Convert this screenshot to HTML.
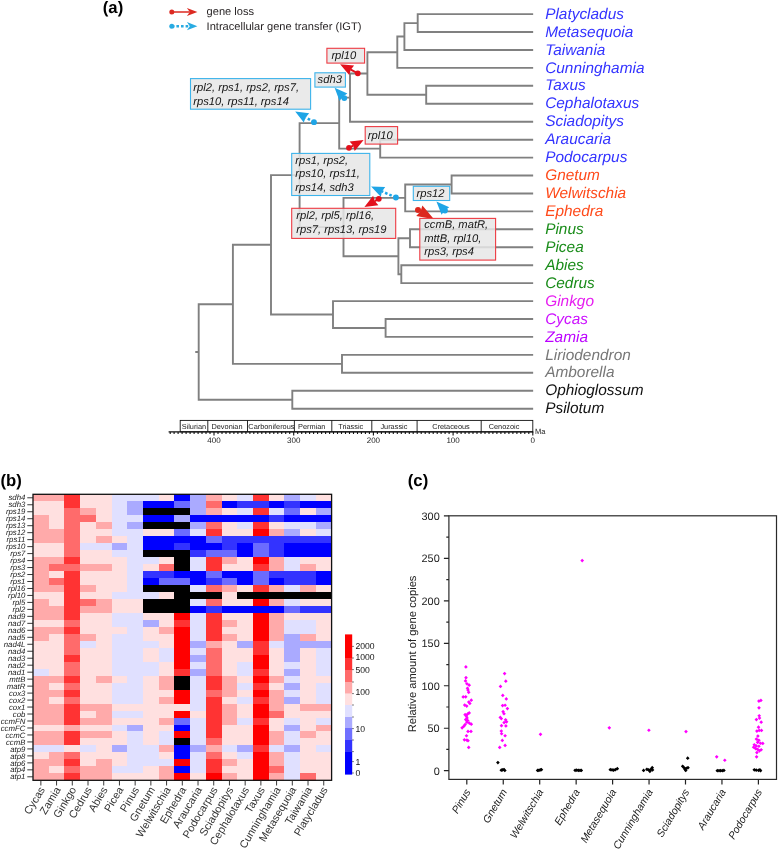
<!DOCTYPE html>
<html lang="en"><head><meta charset="utf-8"><title>Figure</title>
<style>
html,body{margin:0;padding:0;background:#fff;}
body{width:778px;height:849px;overflow:hidden;}
svg{display:block;font-family:"Liberation Sans", sans-serif;will-change:transform;text-rendering:geometricPrecision;}
.tx{font-style:italic;font-size:15.4px;}
.gl{font-style:italic;font-size:11.2px;fill:#141414;}
.rl{font-style:italic;font-size:7.8px;fill:#1a1a1a;text-anchor:end;}
.cl{font-size:10.8px;fill:#333;text-anchor:end;}
.sl{font-style:italic;font-size:10.5px;fill:#222;text-anchor:end;}
.pl{font-weight:bold;font-size:16.7px;fill:#000;}
.tr{fill:none;stroke:#808080;stroke-width:1.9;stroke-linecap:square;}
</style></head><body>
<svg width="778" height="849" viewBox="0 0 778 849">

<g id="panelA">
<text class="pl" x="102.8" y="12.7">(a)</text>
<circle cx="171.8" cy="12.0" r="2.5" fill="#dc2a22"/><line x1="171.8" y1="12.0" x2="189.8" y2="12.0" stroke="#dc2a22" stroke-width="1.5"/><path d="M197.4 12.0L186.9 16.1L189.8 12.0L186.9 7.9Z" fill="#dc2a22"/>
<circle cx="171.8" cy="26.2" r="2.5" fill="#29abe2"/><line x1="171.8" y1="26.2" x2="189.8" y2="26.2" stroke="#29abe2" stroke-width="2.5" stroke-dasharray="2.6 2.0"/><path d="M197.4 26.2L186.9 30.3L189.8 26.2L186.9 22.1Z" fill="#29abe2"/>
<text x="206.6" y="15.4" font-size="11.1px" fill="#231f20">gene loss</text>
<text x="206.6" y="29.8" font-size="11.1px" fill="#231f20">Intracellular gene transfer (IGT)</text>
<path class="tr" d="M417.7 14.1L532.2 14.1M417.7 32.0L532.2 32.0M417.7 14.1L417.7 32.0M404.4 23.1L417.7 23.1M404.4 50.0L532.2 50.0M404.4 23.1L404.4 50.0M397.3 36.5L404.4 36.5M397.3 67.9L532.2 67.9M397.3 36.5L397.3 67.9M426.2 85.8L532.2 85.8M426.2 103.8L532.2 103.8M426.2 85.8L426.2 103.8M367.4 52.2L397.3 52.2M367.4 94.8L426.2 94.8M367.4 52.2L367.4 94.8M350.0 73.5L367.4 73.5M350.0 121.7L532.2 121.7M350.0 73.5L350.0 121.7M380.2 139.7L532.2 139.7M380.2 157.6L532.2 157.6M380.2 139.7L380.2 157.6M339.2 97.6L350.0 97.6M339.2 148.6L380.2 148.6M339.2 97.6L339.2 148.6M451.6 175.5L532.2 175.5M451.6 193.5L532.2 193.5M451.6 175.5L451.6 193.5M405.2 184.5L451.6 184.5M405.2 211.4L532.2 211.4M405.2 184.5L405.2 211.4M410.0 229.3L532.2 229.3M410.0 247.3L532.2 247.3M410.0 229.3L410.0 247.3M401.3 265.2L532.2 265.2M401.3 283.1L532.2 283.1M401.3 265.2L401.3 283.1M398.4 238.3L410.0 238.3M398.4 274.2L401.3 274.2M398.4 238.3L398.4 274.2M343.5 197.9L405.2 197.9M343.5 256.2L398.4 256.2M343.5 197.9L343.5 256.2M299.6 123.1L339.2 123.1M299.6 227.1L343.5 227.1M299.6 123.1L299.6 227.1M385.6 319.0L532.2 319.0M385.6 336.9L532.2 336.9M385.6 319.0L385.6 336.9M333.0 301.1L532.2 301.1M333.0 328.0L385.6 328.0M333.0 301.1L333.0 328.0M271.0 175.1L299.6 175.1M271.0 314.5L333.0 314.5M271.0 175.1L271.0 314.5M342.0 354.9L532.2 354.9M342.0 372.8L532.2 372.8M342.0 354.9L342.0 372.8M232.9 244.8L271.0 244.8M232.9 363.9L342.0 363.9M232.9 244.8L232.9 363.9M292.3 390.8L532.2 390.8M292.3 408.7L532.2 408.7M292.3 390.8L292.3 408.7M198.7 304.3L232.9 304.3M198.7 399.7L292.3 399.7M198.7 304.3L198.7 399.7M196.2 352.0L198.7 352.0"/>
<text class="tx" x="545.2" y="18.7" fill="#3333ff">Platycladus</text>
<text class="tx" x="545.2" y="36.6" fill="#3333ff">Metasequoia</text>
<text class="tx" x="545.2" y="54.6" fill="#3333ff">Taiwania</text>
<text class="tx" x="545.2" y="72.5" fill="#3333ff">Cunninghamia</text>
<text class="tx" x="545.2" y="90.4" fill="#3333ff">Taxus</text>
<text class="tx" x="545.2" y="108.4" fill="#3333ff">Cephalotaxus</text>
<text class="tx" x="545.2" y="126.3" fill="#3333ff">Sciadopitys</text>
<text class="tx" x="545.2" y="144.3" fill="#3333ff">Araucaria</text>
<text class="tx" x="545.2" y="162.2" fill="#3333ff">Podocarpus</text>
<text class="tx" x="545.2" y="180.1" fill="#ff4a1a">Gnetum</text>
<text class="tx" x="545.2" y="198.1" fill="#ff4a1a">Welwitschia</text>
<text class="tx" x="545.2" y="216.0" fill="#ff4a1a">Ephedra</text>
<text class="tx" x="545.2" y="233.9" fill="#1a8c1a">Pinus</text>
<text class="tx" x="545.2" y="251.9" fill="#1a8c1a">Picea</text>
<text class="tx" x="545.2" y="269.8" fill="#1a8c1a">Abies</text>
<text class="tx" x="545.2" y="287.7" fill="#1a8c1a">Cedrus</text>
<text class="tx" x="545.2" y="305.7" fill="#e61ef0">Ginkgo</text>
<text class="tx" x="545.2" y="323.6" fill="#cc10ff">Cycas</text>
<text class="tx" x="545.2" y="341.5" fill="#bb00ff">Zamia</text>
<text class="tx" x="545.2" y="359.5" fill="#777777">Liriodendron</text>
<text class="tx" x="545.2" y="377.4" fill="#777777">Amborella</text>
<text class="tx" x="545.2" y="395.4" fill="#111111">Ophioglossum</text>
<text class="tx" x="545.2" y="413.3" fill="#111111">Psilotum</text>
<circle cx="357.8" cy="73.3" r="2.9" fill="#e3101c"/><line x1="357.8" y1="73.3" x2="350.8" y2="69.7" stroke="#e3101c" stroke-width="2.0"/><path d="M340.1 64.3L354.1 65.4L350.8 69.7L349.2 75.0Z" fill="#e3101c"/>
<circle cx="344.3" cy="98.1" r="2.9" fill="#1fa5e6"/><line x1="344.3" y1="98.1" x2="342.8" y2="96.5" stroke="#1fa5e6" stroke-width="2.5" stroke-dasharray="2.6 2.0"/><path d="M334.6 87.8L347.4 93.6L342.8 96.5L339.6 101.0Z" fill="#1fa5e6"/>
<circle cx="314.0" cy="122.2" r="2.9" fill="#1fa5e6"/><line x1="314.0" y1="122.2" x2="305.6" y2="117.4" stroke="#1fa5e6" stroke-width="2.5" stroke-dasharray="2.6 2.0"/><path d="M295.2 111.4L309.2 113.2L305.6 117.4L303.8 122.6Z" fill="#1fa5e6"/>
<circle cx="349.0" cy="147.8" r="2.9" fill="#e3101c"/><line x1="349.0" y1="147.8" x2="353.1" y2="145.6" stroke="#e3101c" stroke-width="2.0"/><path d="M363.6 140.0L354.7 150.9L353.1 145.6L349.6 141.4Z" fill="#e3101c"/>
<circle cx="395.9" cy="197.5" r="2.9" fill="#1fa5e6"/><line x1="395.9" y1="197.5" x2="382.0" y2="191.4" stroke="#1fa5e6" stroke-width="2.5" stroke-dasharray="2.6 2.0"/><path d="M371.1 186.6L385.2 186.9L382.0 191.4L380.8 196.8Z" fill="#1fa5e6"/>
<circle cx="378.8" cy="198.8" r="2.9" fill="#e3101c"/><line x1="378.8" y1="198.8" x2="374.8" y2="201.0" stroke="#e3101c" stroke-width="2.0"/><path d="M364.4 206.9L373.1 195.8L374.8 201.0L378.4 205.2Z" fill="#e3101c"/>
<circle cx="445.0" cy="210.5" r="2.9" fill="#1fa5e6"/><line x1="445.0" y1="210.5" x2="444.7" y2="210.2" stroke="#1fa5e6" stroke-width="2.5" stroke-dasharray="2.6 2.0"/><path d="M436.4 201.6L449.3 207.2L444.7 210.2L441.6 214.7Z" fill="#1fa5e6"/>
<circle cx="418.0" cy="210.0" r="3.0" fill="#dc281e"/><line x1="418.0" y1="210.0" x2="420.5" y2="211.4" stroke="#dc281e" stroke-width="2.0"/><path d="M434.0 219.3L416.2 216.1L420.5 211.4L422.4 205.4Z" fill="#dc281e"/>
<rect x="326.9" y="48.3" width="37.7" height="14.8" fill="#e6e6e6" fill-opacity="0.85" stroke="#ee3b43" stroke-width="1.1"/><text class="gl" x="331.4" y="58.9">rpl10</text>
<rect x="314.9" y="72.8" width="30.5" height="14.3" fill="#e6e6e6" fill-opacity="0.85" stroke="#3db4ec" stroke-width="1.1"/><text class="gl" x="317.6" y="83.3">sdh3</text>
<rect x="190.5" y="78.6" width="120.1" height="30.6" fill="#e6e6e6" fill-opacity="0.85" stroke="#3db4ec" stroke-width="1.1"/><text class="gl" x="193.3" y="91.0">rpl2, rps1, rps2, rps7,</text><text class="gl" x="193.3" y="104.5">rps10, rps11, rps14</text>
<rect x="365.2" y="126.6" width="32.4" height="17.5" fill="#e6e6e6" fill-opacity="0.85" stroke="#ee3b43" stroke-width="1.1"/><text class="gl" x="367.8" y="138.8">rpl10</text>
<rect x="291.7" y="153.4" width="78.1" height="42.1" fill="#e6e6e6" fill-opacity="0.85" stroke="#3db4ec" stroke-width="1.1"/><text class="gl" x="295.3" y="164.0">rps1, rps2,</text><text class="gl" x="295.3" y="177.3">rps10, rps11,</text><text class="gl" x="295.3" y="190.7">rps14, sdh3</text>
<rect x="291.7" y="208.3" width="104.0" height="30.1" fill="#e6e6e6" fill-opacity="0.85" stroke="#ee3b43" stroke-width="1.1"/><text class="gl" x="296.3" y="219.4">rpl2, rpl5, rpl16,</text><text class="gl" x="296.3" y="232.6">rps7, rps13, rps19</text>
<rect x="413.3" y="186.3" width="36.4" height="14.2" fill="#e6e6e6" fill-opacity="0.85" stroke="#3db4ec" stroke-width="1.1"/><text class="gl" x="416.5" y="196.5">rps12</text>
<rect x="419.8" y="218.4" width="75.8" height="41.7" fill="#e6e6e6" fill-opacity="0.85" stroke="#ee3b43" stroke-width="1.1"/><text class="gl" x="424.2" y="228.3">ccmB, matR,</text><text class="gl" x="424.2" y="241.7">mttB, rpl10,</text><text class="gl" x="424.2" y="255.1">rps3, rps4</text>
<rect x="180.2" y="420.4" width="352.6" height="11.4" fill="#fff" stroke="#111" stroke-width="0.9"/>
<line x1="207.8" y1="420.4" x2="207.8" y2="431.8" stroke="#111" stroke-width="0.9"/>
<line x1="247.5" y1="420.4" x2="247.5" y2="431.8" stroke="#111" stroke-width="0.9"/>
<line x1="294.4" y1="420.4" x2="294.4" y2="431.8" stroke="#111" stroke-width="0.9"/>
<line x1="331.8" y1="420.4" x2="331.8" y2="431.8" stroke="#111" stroke-width="0.9"/>
<line x1="371.8" y1="420.4" x2="371.8" y2="431.8" stroke="#111" stroke-width="0.9"/>
<line x1="417.1" y1="420.4" x2="417.1" y2="431.8" stroke="#111" stroke-width="0.9"/>
<line x1="481.2" y1="420.4" x2="481.2" y2="431.8" stroke="#111" stroke-width="0.9"/>
<text x="193.9" y="428.9" font-size="7.35px" fill="#222" text-anchor="middle">Silurian</text>
<text x="227.0" y="428.9" font-size="7.35px" fill="#222" text-anchor="middle">Devonian</text>
<text x="271.4" y="428.9" font-size="7.35px" fill="#222" text-anchor="middle">Carboniferous</text>
<text x="311.7" y="428.9" font-size="7.35px" fill="#222" text-anchor="middle">Permian</text>
<text x="350.7" y="428.9" font-size="7.35px" fill="#222" text-anchor="middle">Triassic</text>
<text x="393.9" y="428.9" font-size="7.35px" fill="#222" text-anchor="middle">Jurassic</text>
<text x="451.0" y="428.9" font-size="7.35px" fill="#222" text-anchor="middle">Cretaceous</text>
<text x="504.0" y="428.9" font-size="7.35px" fill="#222" text-anchor="middle">Cenozoic</text>
<line x1="168.6" y1="431.9" x2="533.3" y2="431.9" stroke="#111" stroke-width="1.3"/>
<path d="M532.8 431.9v3.7M528.8 431.9v2.0M524.8 431.9v2.0M520.8 431.9v2.0M516.9 431.9v2.0M512.9 431.9v2.0M508.9 431.9v2.0M504.9 431.9v2.0M500.9 431.9v2.0M496.9 431.9v2.0M492.9 431.9v2.0M489.0 431.9v2.0M485.0 431.9v2.0M481.0 431.9v2.0M477.0 431.9v2.0M473.0 431.9v2.0M469.0 431.9v2.0M465.1 431.9v2.0M461.1 431.9v2.0M457.1 431.9v2.0M453.1 431.9v3.7M449.1 431.9v2.0M445.1 431.9v2.0M441.1 431.9v2.0M437.2 431.9v2.0M433.2 431.9v2.0M429.2 431.9v2.0M425.2 431.9v2.0M421.2 431.9v2.0M417.2 431.9v2.0M413.2 431.9v2.0M409.3 431.9v2.0M405.3 431.9v2.0M401.3 431.9v2.0M397.3 431.9v2.0M393.3 431.9v2.0M389.3 431.9v2.0M385.4 431.9v2.0M381.4 431.9v2.0M377.4 431.9v2.0M373.4 431.9v3.7M369.4 431.9v2.0M365.4 431.9v2.0M361.4 431.9v2.0M357.5 431.9v2.0M353.5 431.9v2.0M349.5 431.9v2.0M345.5 431.9v2.0M341.5 431.9v2.0M337.5 431.9v2.0M333.5 431.9v2.0M329.6 431.9v2.0M325.6 431.9v2.0M321.6 431.9v2.0M317.6 431.9v2.0M313.6 431.9v2.0M309.6 431.9v2.0M305.7 431.9v2.0M301.7 431.9v2.0M297.7 431.9v2.0M293.7 431.9v3.7M289.7 431.9v2.0M285.7 431.9v2.0M281.7 431.9v2.0M277.8 431.9v2.0M273.8 431.9v2.0M269.8 431.9v2.0M265.8 431.9v2.0M261.8 431.9v2.0M257.8 431.9v2.0M253.8 431.9v2.0M249.9 431.9v2.0M245.9 431.9v2.0M241.9 431.9v2.0M237.9 431.9v2.0M233.9 431.9v2.0M229.9 431.9v2.0M226.0 431.9v2.0M222.0 431.9v2.0M218.0 431.9v2.0M214.0 431.9v3.7M210.0 431.9v2.0M206.0 431.9v2.0M202.0 431.9v2.0M198.1 431.9v2.0M194.1 431.9v2.0M190.1 431.9v2.0M186.1 431.9v2.0M182.1 431.9v2.0M178.1 431.9v2.0M174.1 431.9v2.0M170.2 431.9v2.0" stroke="#111" stroke-width="1.1" fill="none"/>
<text x="532.8" y="443.3" font-size="8px" fill="#222" text-anchor="middle">0</text>
<text x="453.1" y="443.3" font-size="8px" fill="#222" text-anchor="middle">100</text>
<text x="373.4" y="443.3" font-size="8px" fill="#222" text-anchor="middle">200</text>
<text x="293.7" y="443.3" font-size="8px" fill="#222" text-anchor="middle">300</text>
<text x="214.0" y="443.3" font-size="8px" fill="#222" text-anchor="middle">400</text>
<text x="535" y="433.6" font-size="7.5px" fill="#222">Ma</text>
</g>
<g id="panelB">
<g shape-rendering="crispEdges">
<text class="pl" x="0.4" y="485.8">(b)</text>
<rect x="33.00" y="494.30" width="31.93" height="7.58" fill="#ffaaaa"/>
<rect x="64.43" y="494.30" width="16.22" height="7.58" fill="#ff3333"/>
<rect x="80.15" y="494.30" width="31.93" height="7.58" fill="#ffe0e0"/>
<rect x="111.58" y="494.30" width="47.65" height="7.58" fill="#e0e0ff"/>
<rect x="158.73" y="494.30" width="16.22" height="7.58" fill="#ffe0e0"/>
<rect x="174.44" y="494.30" width="16.22" height="7.58" fill="#0000ff"/>
<rect x="190.16" y="494.30" width="16.22" height="7.58" fill="#aaaaff"/>
<rect x="205.87" y="494.30" width="16.22" height="7.58" fill="#ffaaaa"/>
<rect x="221.59" y="494.30" width="16.22" height="7.58" fill="#ffe0e0"/>
<rect x="237.31" y="494.30" width="16.22" height="7.58" fill="#e0e0ff"/>
<rect x="253.02" y="494.30" width="16.22" height="7.58" fill="#ff3333"/>
<rect x="268.74" y="494.30" width="16.22" height="7.58" fill="#ffe0e0"/>
<rect x="284.45" y="494.30" width="16.22" height="7.58" fill="#aaaaff"/>
<rect x="300.17" y="494.30" width="16.22" height="7.58" fill="#e0e0ff"/>
<rect x="315.88" y="494.30" width="16.22" height="7.58" fill="#ffe0e0"/>
<rect x="33.00" y="501.28" width="31.93" height="7.58" fill="#ffe0e0"/>
<rect x="64.43" y="501.28" width="16.22" height="7.58" fill="#ff3333"/>
<rect x="80.15" y="501.28" width="31.93" height="7.58" fill="#ffe0e0"/>
<rect x="111.58" y="501.28" width="16.22" height="7.58" fill="#e0e0ff"/>
<rect x="127.29" y="501.28" width="16.22" height="7.58" fill="#aaaaff"/>
<rect x="143.01" y="501.28" width="31.93" height="7.58" fill="#0000ff"/>
<rect x="174.44" y="501.28" width="16.22" height="7.58" fill="#6b6bff"/>
<rect x="190.16" y="501.28" width="16.22" height="7.58" fill="#aaaaff"/>
<rect x="205.87" y="501.28" width="16.22" height="7.58" fill="#ff6b6b"/>
<rect x="221.59" y="501.28" width="16.22" height="7.58" fill="#0000ff"/>
<rect x="237.31" y="501.28" width="31.93" height="7.58" fill="#3333ff"/>
<rect x="268.74" y="501.28" width="16.22" height="7.58" fill="#0000ff"/>
<rect x="284.45" y="501.28" width="16.22" height="7.58" fill="#3333ff"/>
<rect x="300.17" y="501.28" width="31.93" height="7.58" fill="#0000ff"/>
<rect x="33.00" y="508.25" width="31.93" height="7.58" fill="#ffe0e0"/>
<rect x="64.43" y="508.25" width="16.22" height="7.58" fill="#ff6b6b"/>
<rect x="80.15" y="508.25" width="16.22" height="7.58" fill="#ffaaaa"/>
<rect x="95.86" y="508.25" width="16.22" height="7.58" fill="#ffe0e0"/>
<rect x="111.58" y="508.25" width="16.22" height="7.58" fill="#e0e0ff"/>
<rect x="127.29" y="508.25" width="16.22" height="7.58" fill="#aaaaff"/>
<rect x="143.01" y="508.25" width="47.65" height="7.58" fill="#000000"/>
<rect x="190.16" y="508.25" width="16.22" height="7.58" fill="#aaaaff"/>
<rect x="205.87" y="508.25" width="16.22" height="7.58" fill="#ffaaaa"/>
<rect x="221.59" y="508.25" width="16.22" height="7.58" fill="#ffe0e0"/>
<rect x="237.31" y="508.25" width="16.22" height="7.58" fill="#e0e0ff"/>
<rect x="253.02" y="508.25" width="16.22" height="7.58" fill="#ff3333"/>
<rect x="268.74" y="508.25" width="16.22" height="7.58" fill="#e0e0ff"/>
<rect x="284.45" y="508.25" width="16.22" height="7.58" fill="#6b6bff"/>
<rect x="300.17" y="508.25" width="16.22" height="7.58" fill="#ffe0e0"/>
<rect x="315.88" y="508.25" width="16.22" height="7.58" fill="#aaaaff"/>
<rect x="33.00" y="515.23" width="16.22" height="7.58" fill="#ffaaaa"/>
<rect x="48.72" y="515.23" width="16.22" height="7.58" fill="#ffe0e0"/>
<rect x="64.43" y="515.23" width="31.93" height="7.58" fill="#ff6b6b"/>
<rect x="95.86" y="515.23" width="16.22" height="7.58" fill="#ffe0e0"/>
<rect x="111.58" y="515.23" width="31.93" height="7.58" fill="#e0e0ff"/>
<rect x="143.01" y="515.23" width="31.93" height="7.58" fill="#0000ff"/>
<rect x="174.44" y="515.23" width="16.22" height="7.58" fill="#aaaaff"/>
<rect x="190.16" y="515.23" width="79.08" height="7.58" fill="#0000ff"/>
<rect x="268.74" y="515.23" width="16.22" height="7.58" fill="#3333ff"/>
<rect x="284.45" y="515.23" width="47.65" height="7.58" fill="#0000ff"/>
<rect x="33.00" y="522.20" width="16.22" height="7.58" fill="#ffaaaa"/>
<rect x="48.72" y="522.20" width="16.22" height="7.58" fill="#ffe0e0"/>
<rect x="64.43" y="522.20" width="16.22" height="7.58" fill="#ff6b6b"/>
<rect x="80.15" y="522.20" width="16.22" height="7.58" fill="#ffe0e0"/>
<rect x="95.86" y="522.20" width="16.22" height="7.58" fill="#ffaaaa"/>
<rect x="111.58" y="522.20" width="16.22" height="7.58" fill="#e0e0ff"/>
<rect x="127.29" y="522.20" width="16.22" height="7.58" fill="#aaaaff"/>
<rect x="143.01" y="522.20" width="47.65" height="7.58" fill="#000000"/>
<rect x="190.16" y="522.20" width="16.22" height="7.58" fill="#aaaaff"/>
<rect x="205.87" y="522.20" width="16.22" height="7.58" fill="#ff6b6b"/>
<rect x="221.59" y="522.20" width="16.22" height="7.58" fill="#ffe0e0"/>
<rect x="237.31" y="522.20" width="16.22" height="7.58" fill="#e0e0ff"/>
<rect x="253.02" y="522.20" width="16.22" height="7.58" fill="#ff3333"/>
<rect x="268.74" y="522.20" width="16.22" height="7.58" fill="#ffe0e0"/>
<rect x="284.45" y="522.20" width="31.93" height="7.58" fill="#e0e0ff"/>
<rect x="315.88" y="522.20" width="16.22" height="7.58" fill="#aaaaff"/>
<rect x="33.00" y="529.18" width="31.93" height="7.58" fill="#ffaaaa"/>
<rect x="64.43" y="529.18" width="16.22" height="7.58" fill="#ff6b6b"/>
<rect x="80.15" y="529.18" width="31.93" height="7.58" fill="#ffe0e0"/>
<rect x="111.58" y="529.18" width="31.93" height="7.58" fill="#e0e0ff"/>
<rect x="143.01" y="529.18" width="31.93" height="7.58" fill="#ffe0e0"/>
<rect x="174.44" y="529.18" width="16.22" height="7.58" fill="#6b6bff"/>
<rect x="190.16" y="529.18" width="16.22" height="7.58" fill="#e0e0ff"/>
<rect x="205.87" y="529.18" width="16.22" height="7.58" fill="#ff3333"/>
<rect x="221.59" y="529.18" width="31.93" height="7.58" fill="#ffe0e0"/>
<rect x="253.02" y="529.18" width="16.22" height="7.58" fill="#ff0000"/>
<rect x="268.74" y="529.18" width="16.22" height="7.58" fill="#ffaaaa"/>
<rect x="284.45" y="529.18" width="16.22" height="7.58" fill="#aaaaff"/>
<rect x="300.17" y="529.18" width="16.22" height="7.58" fill="#ffe0e0"/>
<rect x="315.88" y="529.18" width="16.22" height="7.58" fill="#e0e0ff"/>
<rect x="33.00" y="536.15" width="31.93" height="7.58" fill="#ffaaaa"/>
<rect x="64.43" y="536.15" width="16.22" height="7.58" fill="#ff6b6b"/>
<rect x="80.15" y="536.15" width="16.22" height="7.58" fill="#ffe0e0"/>
<rect x="95.86" y="536.15" width="16.22" height="7.58" fill="#ffaaaa"/>
<rect x="111.58" y="536.15" width="16.22" height="7.58" fill="#ffe0e0"/>
<rect x="127.29" y="536.15" width="16.22" height="7.58" fill="#e0e0ff"/>
<rect x="143.01" y="536.15" width="63.36" height="7.58" fill="#0000ff"/>
<rect x="205.87" y="536.15" width="16.22" height="7.58" fill="#6b6bff"/>
<rect x="221.59" y="536.15" width="110.51" height="7.58" fill="#3333ff"/>
<rect x="33.00" y="543.13" width="31.93" height="7.58" fill="#ffe0e0"/>
<rect x="64.43" y="543.13" width="16.22" height="7.58" fill="#ff6b6b"/>
<rect x="80.15" y="543.13" width="31.93" height="7.58" fill="#e0e0ff"/>
<rect x="111.58" y="543.13" width="16.22" height="7.58" fill="#aaaaff"/>
<rect x="127.29" y="543.13" width="16.22" height="7.58" fill="#e0e0ff"/>
<rect x="143.01" y="543.13" width="31.93" height="7.58" fill="#0000ff"/>
<rect x="174.44" y="543.13" width="16.22" height="7.58" fill="#3333ff"/>
<rect x="190.16" y="543.13" width="31.93" height="7.58" fill="#0000ff"/>
<rect x="221.59" y="543.13" width="16.22" height="7.58" fill="#3333ff"/>
<rect x="237.31" y="543.13" width="16.22" height="7.58" fill="#0000ff"/>
<rect x="253.02" y="543.13" width="16.22" height="7.58" fill="#6b6bff"/>
<rect x="268.74" y="543.13" width="16.22" height="7.58" fill="#3333ff"/>
<rect x="284.45" y="543.13" width="47.65" height="7.58" fill="#0000ff"/>
<rect x="33.00" y="550.10" width="31.93" height="7.58" fill="#ffe0e0"/>
<rect x="64.43" y="550.10" width="16.22" height="7.58" fill="#ff6b6b"/>
<rect x="80.15" y="550.10" width="31.93" height="7.58" fill="#ffe0e0"/>
<rect x="111.58" y="550.10" width="31.93" height="7.58" fill="#e0e0ff"/>
<rect x="143.01" y="550.10" width="47.65" height="7.58" fill="#000000"/>
<rect x="190.16" y="550.10" width="16.22" height="7.58" fill="#3333ff"/>
<rect x="205.87" y="550.10" width="31.93" height="7.58" fill="#6b6bff"/>
<rect x="237.31" y="550.10" width="16.22" height="7.58" fill="#0000ff"/>
<rect x="253.02" y="550.10" width="16.22" height="7.58" fill="#6b6bff"/>
<rect x="268.74" y="550.10" width="16.22" height="7.58" fill="#3333ff"/>
<rect x="284.45" y="550.10" width="47.65" height="7.58" fill="#0000ff"/>
<rect x="33.00" y="557.08" width="31.93" height="7.58" fill="#ffaaaa"/>
<rect x="64.43" y="557.08" width="16.22" height="7.58" fill="#ff3333"/>
<rect x="80.15" y="557.08" width="47.65" height="7.58" fill="#ffe0e0"/>
<rect x="127.29" y="557.08" width="31.93" height="7.58" fill="#e0e0ff"/>
<rect x="158.73" y="557.08" width="16.22" height="7.58" fill="#ffe0e0"/>
<rect x="174.44" y="557.08" width="16.22" height="7.58" fill="#000000"/>
<rect x="190.16" y="557.08" width="16.22" height="7.58" fill="#e0e0ff"/>
<rect x="205.87" y="557.08" width="16.22" height="7.58" fill="#ff3333"/>
<rect x="221.59" y="557.08" width="16.22" height="7.58" fill="#ffaaaa"/>
<rect x="237.31" y="557.08" width="16.22" height="7.58" fill="#ffe0e0"/>
<rect x="253.02" y="557.08" width="16.22" height="7.58" fill="#ff0000"/>
<rect x="268.74" y="557.08" width="16.22" height="7.58" fill="#ffaaaa"/>
<rect x="284.45" y="557.08" width="16.22" height="7.58" fill="#e0e0ff"/>
<rect x="300.17" y="557.08" width="31.93" height="7.58" fill="#ffe0e0"/>
<rect x="33.00" y="564.06" width="16.22" height="7.58" fill="#ffaaaa"/>
<rect x="48.72" y="564.06" width="31.93" height="7.58" fill="#ff6b6b"/>
<rect x="80.15" y="564.06" width="31.93" height="7.58" fill="#ffaaaa"/>
<rect x="111.58" y="564.06" width="16.22" height="7.58" fill="#ffe0e0"/>
<rect x="127.29" y="564.06" width="16.22" height="7.58" fill="#e0e0ff"/>
<rect x="143.01" y="564.06" width="16.22" height="7.58" fill="#ffe0e0"/>
<rect x="158.73" y="564.06" width="16.22" height="7.58" fill="#ff6b6b"/>
<rect x="174.44" y="564.06" width="16.22" height="7.58" fill="#000000"/>
<rect x="190.16" y="564.06" width="16.22" height="7.58" fill="#e0e0ff"/>
<rect x="205.87" y="564.06" width="16.22" height="7.58" fill="#ff3333"/>
<rect x="221.59" y="564.06" width="31.93" height="7.58" fill="#ffe0e0"/>
<rect x="253.02" y="564.06" width="16.22" height="7.58" fill="#ff3333"/>
<rect x="268.74" y="564.06" width="16.22" height="7.58" fill="#ffaaaa"/>
<rect x="284.45" y="564.06" width="16.22" height="7.58" fill="#e0e0ff"/>
<rect x="300.17" y="564.06" width="16.22" height="7.58" fill="#ffaaaa"/>
<rect x="315.88" y="564.06" width="16.22" height="7.58" fill="#ffe0e0"/>
<rect x="33.00" y="571.03" width="16.22" height="7.58" fill="#ffaaaa"/>
<rect x="48.72" y="571.03" width="16.22" height="7.58" fill="#ffe0e0"/>
<rect x="64.43" y="571.03" width="16.22" height="7.58" fill="#ff3333"/>
<rect x="80.15" y="571.03" width="47.65" height="7.58" fill="#ffe0e0"/>
<rect x="127.29" y="571.03" width="16.22" height="7.58" fill="#e0e0ff"/>
<rect x="143.01" y="571.03" width="31.93" height="7.58" fill="#3333ff"/>
<rect x="174.44" y="571.03" width="31.93" height="7.58" fill="#0000ff"/>
<rect x="205.87" y="571.03" width="16.22" height="7.58" fill="#6b6bff"/>
<rect x="221.59" y="571.03" width="31.93" height="7.58" fill="#0000ff"/>
<rect x="253.02" y="571.03" width="16.22" height="7.58" fill="#6b6bff"/>
<rect x="268.74" y="571.03" width="47.65" height="7.58" fill="#3333ff"/>
<rect x="315.88" y="571.03" width="16.22" height="7.58" fill="#0000ff"/>
<rect x="33.00" y="578.01" width="16.22" height="7.58" fill="#ffaaaa"/>
<rect x="48.72" y="578.01" width="16.22" height="7.58" fill="#ff6b6b"/>
<rect x="64.43" y="578.01" width="16.22" height="7.58" fill="#ff3333"/>
<rect x="80.15" y="578.01" width="47.65" height="7.58" fill="#ffe0e0"/>
<rect x="127.29" y="578.01" width="16.22" height="7.58" fill="#e0e0ff"/>
<rect x="143.01" y="578.01" width="16.22" height="7.58" fill="#0000ff"/>
<rect x="158.73" y="578.01" width="31.93" height="7.58" fill="#6b6bff"/>
<rect x="190.16" y="578.01" width="16.22" height="7.58" fill="#0000ff"/>
<rect x="205.87" y="578.01" width="16.22" height="7.58" fill="#3333ff"/>
<rect x="221.59" y="578.01" width="16.22" height="7.58" fill="#6b6bff"/>
<rect x="237.31" y="578.01" width="16.22" height="7.58" fill="#0000ff"/>
<rect x="253.02" y="578.01" width="16.22" height="7.58" fill="#6b6bff"/>
<rect x="268.74" y="578.01" width="16.22" height="7.58" fill="#0000ff"/>
<rect x="284.45" y="578.01" width="31.93" height="7.58" fill="#3333ff"/>
<rect x="315.88" y="578.01" width="16.22" height="7.58" fill="#0000ff"/>
<rect x="33.00" y="584.98" width="31.93" height="7.58" fill="#ffaaaa"/>
<rect x="64.43" y="584.98" width="16.22" height="7.58" fill="#ff3333"/>
<rect x="80.15" y="584.98" width="16.22" height="7.58" fill="#ffaaaa"/>
<rect x="95.86" y="584.98" width="31.93" height="7.58" fill="#ffe0e0"/>
<rect x="127.29" y="584.98" width="16.22" height="7.58" fill="#e0e0ff"/>
<rect x="143.01" y="584.98" width="47.65" height="7.58" fill="#000000"/>
<rect x="190.16" y="584.98" width="16.22" height="7.58" fill="#e0e0ff"/>
<rect x="205.87" y="584.98" width="16.22" height="7.58" fill="#ff6b6b"/>
<rect x="221.59" y="584.98" width="16.22" height="7.58" fill="#ffaaaa"/>
<rect x="237.31" y="584.98" width="16.22" height="7.58" fill="#ffe0e0"/>
<rect x="253.02" y="584.98" width="16.22" height="7.58" fill="#ff3333"/>
<rect x="268.74" y="584.98" width="16.22" height="7.58" fill="#ffaaaa"/>
<rect x="284.45" y="584.98" width="16.22" height="7.58" fill="#e0e0ff"/>
<rect x="300.17" y="584.98" width="16.22" height="7.58" fill="#ffaaaa"/>
<rect x="315.88" y="584.98" width="16.22" height="7.58" fill="#ffe0e0"/>
<rect x="33.00" y="591.96" width="31.93" height="7.58" fill="#ffe0e0"/>
<rect x="64.43" y="591.96" width="16.22" height="7.58" fill="#ff3333"/>
<rect x="80.15" y="591.96" width="31.93" height="7.58" fill="#ffe0e0"/>
<rect x="111.58" y="591.96" width="47.65" height="7.58" fill="#e0e0ff"/>
<rect x="158.73" y="591.96" width="16.22" height="7.58" fill="#ffe0e0"/>
<rect x="174.44" y="591.96" width="47.65" height="7.58" fill="#000000"/>
<rect x="221.59" y="591.96" width="16.22" height="7.58" fill="#ffe0e0"/>
<rect x="237.31" y="591.96" width="94.79" height="7.58" fill="#000000"/>
<rect x="33.00" y="598.93" width="16.22" height="7.58" fill="#ffaaaa"/>
<rect x="48.72" y="598.93" width="16.22" height="7.58" fill="#ffe0e0"/>
<rect x="64.43" y="598.93" width="16.22" height="7.58" fill="#ff3333"/>
<rect x="80.15" y="598.93" width="16.22" height="7.58" fill="#ff6b6b"/>
<rect x="95.86" y="598.93" width="16.22" height="7.58" fill="#ffaaaa"/>
<rect x="111.58" y="598.93" width="31.93" height="7.58" fill="#ffe0e0"/>
<rect x="143.01" y="598.93" width="47.65" height="7.58" fill="#000000"/>
<rect x="190.16" y="598.93" width="16.22" height="7.58" fill="#e0e0ff"/>
<rect x="205.87" y="598.93" width="16.22" height="7.58" fill="#ff6b6b"/>
<rect x="221.59" y="598.93" width="31.93" height="7.58" fill="#ffe0e0"/>
<rect x="253.02" y="598.93" width="16.22" height="7.58" fill="#ff0000"/>
<rect x="268.74" y="598.93" width="16.22" height="7.58" fill="#ffaaaa"/>
<rect x="284.45" y="598.93" width="16.22" height="7.58" fill="#e0e0ff"/>
<rect x="300.17" y="598.93" width="31.93" height="7.58" fill="#ffe0e0"/>
<rect x="33.00" y="605.91" width="31.93" height="7.58" fill="#ffaaaa"/>
<rect x="64.43" y="605.91" width="16.22" height="7.58" fill="#ff3333"/>
<rect x="80.15" y="605.91" width="31.93" height="7.58" fill="#ffaaaa"/>
<rect x="111.58" y="605.91" width="31.93" height="7.58" fill="#ffe0e0"/>
<rect x="143.01" y="605.91" width="47.65" height="7.58" fill="#000000"/>
<rect x="190.16" y="605.91" width="16.22" height="7.58" fill="#0000ff"/>
<rect x="205.87" y="605.91" width="16.22" height="7.58" fill="#3333ff"/>
<rect x="221.59" y="605.91" width="63.36" height="7.58" fill="#0000ff"/>
<rect x="284.45" y="605.91" width="16.22" height="7.58" fill="#6b6bff"/>
<rect x="300.17" y="605.91" width="31.93" height="7.58" fill="#3333ff"/>
<rect x="33.00" y="612.89" width="31.93" height="7.58" fill="#ffaaaa"/>
<rect x="64.43" y="612.89" width="16.22" height="7.58" fill="#ff3333"/>
<rect x="80.15" y="612.89" width="31.93" height="7.58" fill="#ffe0e0"/>
<rect x="111.58" y="612.89" width="31.93" height="7.58" fill="#e0e0ff"/>
<rect x="143.01" y="612.89" width="31.93" height="7.58" fill="#ffe0e0"/>
<rect x="174.44" y="612.89" width="16.22" height="7.58" fill="#ff0000"/>
<rect x="190.16" y="612.89" width="16.22" height="7.58" fill="#e0e0ff"/>
<rect x="205.87" y="612.89" width="16.22" height="7.58" fill="#ff3333"/>
<rect x="221.59" y="612.89" width="31.93" height="7.58" fill="#ffe0e0"/>
<rect x="253.02" y="612.89" width="16.22" height="7.58" fill="#ff0000"/>
<rect x="268.74" y="612.89" width="16.22" height="7.58" fill="#ffaaaa"/>
<rect x="284.45" y="612.89" width="47.65" height="7.58" fill="#ffe0e0"/>
<rect x="33.00" y="619.86" width="31.93" height="7.58" fill="#ffe0e0"/>
<rect x="64.43" y="619.86" width="16.22" height="7.58" fill="#ff6b6b"/>
<rect x="80.15" y="619.86" width="31.93" height="7.58" fill="#ffe0e0"/>
<rect x="111.58" y="619.86" width="31.93" height="7.58" fill="#e0e0ff"/>
<rect x="143.01" y="619.86" width="16.22" height="7.58" fill="#aaaaff"/>
<rect x="158.73" y="619.86" width="16.22" height="7.58" fill="#ffe0e0"/>
<rect x="174.44" y="619.86" width="16.22" height="7.58" fill="#ff3333"/>
<rect x="190.16" y="619.86" width="16.22" height="7.58" fill="#e0e0ff"/>
<rect x="205.87" y="619.86" width="16.22" height="7.58" fill="#ff3333"/>
<rect x="221.59" y="619.86" width="16.22" height="7.58" fill="#ffaaaa"/>
<rect x="237.31" y="619.86" width="16.22" height="7.58" fill="#ffe0e0"/>
<rect x="253.02" y="619.86" width="16.22" height="7.58" fill="#ff0000"/>
<rect x="268.74" y="619.86" width="16.22" height="7.58" fill="#ffaaaa"/>
<rect x="284.45" y="619.86" width="31.93" height="7.58" fill="#e0e0ff"/>
<rect x="315.88" y="619.86" width="16.22" height="7.58" fill="#ffe0e0"/>
<rect x="33.00" y="626.84" width="31.93" height="7.58" fill="#ffaaaa"/>
<rect x="64.43" y="626.84" width="16.22" height="7.58" fill="#ff3333"/>
<rect x="80.15" y="626.84" width="47.65" height="7.58" fill="#ffe0e0"/>
<rect x="127.29" y="626.84" width="16.22" height="7.58" fill="#e0e0ff"/>
<rect x="143.01" y="626.84" width="16.22" height="7.58" fill="#ffe0e0"/>
<rect x="158.73" y="626.84" width="16.22" height="7.58" fill="#ffaaaa"/>
<rect x="174.44" y="626.84" width="16.22" height="7.58" fill="#ff0000"/>
<rect x="190.16" y="626.84" width="16.22" height="7.58" fill="#e0e0ff"/>
<rect x="205.87" y="626.84" width="16.22" height="7.58" fill="#ff3333"/>
<rect x="221.59" y="626.84" width="31.93" height="7.58" fill="#ffe0e0"/>
<rect x="253.02" y="626.84" width="16.22" height="7.58" fill="#ff0000"/>
<rect x="268.74" y="626.84" width="16.22" height="7.58" fill="#ffaaaa"/>
<rect x="284.45" y="626.84" width="31.93" height="7.58" fill="#e0e0ff"/>
<rect x="315.88" y="626.84" width="16.22" height="7.58" fill="#ffe0e0"/>
<rect x="33.00" y="633.81" width="16.22" height="7.58" fill="#ffaaaa"/>
<rect x="48.72" y="633.81" width="16.22" height="7.58" fill="#ffe0e0"/>
<rect x="64.43" y="633.81" width="16.22" height="7.58" fill="#ff6b6b"/>
<rect x="80.15" y="633.81" width="16.22" height="7.58" fill="#ffaaaa"/>
<rect x="95.86" y="633.81" width="16.22" height="7.58" fill="#ffe0e0"/>
<rect x="111.58" y="633.81" width="31.93" height="7.58" fill="#e0e0ff"/>
<rect x="143.01" y="633.81" width="31.93" height="7.58" fill="#ffe0e0"/>
<rect x="174.44" y="633.81" width="16.22" height="7.58" fill="#ff0000"/>
<rect x="190.16" y="633.81" width="16.22" height="7.58" fill="#e0e0ff"/>
<rect x="205.87" y="633.81" width="16.22" height="7.58" fill="#ff3333"/>
<rect x="221.59" y="633.81" width="16.22" height="7.58" fill="#ffaaaa"/>
<rect x="237.31" y="633.81" width="16.22" height="7.58" fill="#ffe0e0"/>
<rect x="253.02" y="633.81" width="16.22" height="7.58" fill="#ff0000"/>
<rect x="268.74" y="633.81" width="16.22" height="7.58" fill="#ffaaaa"/>
<rect x="284.45" y="633.81" width="16.22" height="7.58" fill="#aaaaff"/>
<rect x="300.17" y="633.81" width="16.22" height="7.58" fill="#ffaaaa"/>
<rect x="315.88" y="633.81" width="16.22" height="7.58" fill="#ffe0e0"/>
<rect x="33.00" y="640.79" width="31.93" height="7.58" fill="#ffe0e0"/>
<rect x="64.43" y="640.79" width="16.22" height="7.58" fill="#ff6b6b"/>
<rect x="80.15" y="640.79" width="16.22" height="7.58" fill="#e0e0ff"/>
<rect x="95.86" y="640.79" width="16.22" height="7.58" fill="#ffe0e0"/>
<rect x="111.58" y="640.79" width="47.65" height="7.58" fill="#e0e0ff"/>
<rect x="158.73" y="640.79" width="16.22" height="7.58" fill="#ffe0e0"/>
<rect x="174.44" y="640.79" width="16.22" height="7.58" fill="#ff0000"/>
<rect x="190.16" y="640.79" width="16.22" height="7.58" fill="#aaaaff"/>
<rect x="205.87" y="640.79" width="16.22" height="7.58" fill="#ffaaaa"/>
<rect x="221.59" y="640.79" width="16.22" height="7.58" fill="#ffe0e0"/>
<rect x="237.31" y="640.79" width="16.22" height="7.58" fill="#aaaaff"/>
<rect x="253.02" y="640.79" width="16.22" height="7.58" fill="#ff3333"/>
<rect x="268.74" y="640.79" width="16.22" height="7.58" fill="#e0e0ff"/>
<rect x="284.45" y="640.79" width="47.65" height="7.58" fill="#aaaaff"/>
<rect x="33.00" y="647.76" width="31.93" height="7.58" fill="#ffe0e0"/>
<rect x="64.43" y="647.76" width="16.22" height="7.58" fill="#ff6b6b"/>
<rect x="80.15" y="647.76" width="31.93" height="7.58" fill="#ffe0e0"/>
<rect x="111.58" y="647.76" width="31.93" height="7.58" fill="#e0e0ff"/>
<rect x="143.01" y="647.76" width="16.22" height="7.58" fill="#ffe0e0"/>
<rect x="158.73" y="647.76" width="16.22" height="7.58" fill="#e0e0ff"/>
<rect x="174.44" y="647.76" width="16.22" height="7.58" fill="#ff0000"/>
<rect x="190.16" y="647.76" width="16.22" height="7.58" fill="#e0e0ff"/>
<rect x="205.87" y="647.76" width="16.22" height="7.58" fill="#ff6b6b"/>
<rect x="221.59" y="647.76" width="31.93" height="7.58" fill="#ffe0e0"/>
<rect x="253.02" y="647.76" width="16.22" height="7.58" fill="#ff3333"/>
<rect x="268.74" y="647.76" width="16.22" height="7.58" fill="#ffe0e0"/>
<rect x="284.45" y="647.76" width="16.22" height="7.58" fill="#aaaaff"/>
<rect x="300.17" y="647.76" width="16.22" height="7.58" fill="#ffe0e0"/>
<rect x="315.88" y="647.76" width="16.22" height="7.58" fill="#e0e0ff"/>
<rect x="33.00" y="654.74" width="31.93" height="7.58" fill="#ffe0e0"/>
<rect x="64.43" y="654.74" width="16.22" height="7.58" fill="#ff3333"/>
<rect x="80.15" y="654.74" width="31.93" height="7.58" fill="#ffe0e0"/>
<rect x="111.58" y="654.74" width="31.93" height="7.58" fill="#e0e0ff"/>
<rect x="143.01" y="654.74" width="16.22" height="7.58" fill="#ffe0e0"/>
<rect x="158.73" y="654.74" width="16.22" height="7.58" fill="#e0e0ff"/>
<rect x="174.44" y="654.74" width="16.22" height="7.58" fill="#ff0000"/>
<rect x="190.16" y="654.74" width="16.22" height="7.58" fill="#aaaaff"/>
<rect x="205.87" y="654.74" width="16.22" height="7.58" fill="#ff6b6b"/>
<rect x="221.59" y="654.74" width="31.93" height="7.58" fill="#ffe0e0"/>
<rect x="253.02" y="654.74" width="16.22" height="7.58" fill="#ff0000"/>
<rect x="268.74" y="654.74" width="16.22" height="7.58" fill="#ffe0e0"/>
<rect x="284.45" y="654.74" width="16.22" height="7.58" fill="#aaaaff"/>
<rect x="300.17" y="654.74" width="16.22" height="7.58" fill="#ffe0e0"/>
<rect x="315.88" y="654.74" width="16.22" height="7.58" fill="#e0e0ff"/>
<rect x="33.00" y="661.71" width="31.93" height="7.58" fill="#ffe0e0"/>
<rect x="64.43" y="661.71" width="16.22" height="7.58" fill="#ff6b6b"/>
<rect x="80.15" y="661.71" width="31.93" height="7.58" fill="#ffe0e0"/>
<rect x="111.58" y="661.71" width="47.65" height="7.58" fill="#e0e0ff"/>
<rect x="158.73" y="661.71" width="16.22" height="7.58" fill="#ffe0e0"/>
<rect x="174.44" y="661.71" width="16.22" height="7.58" fill="#ff0000"/>
<rect x="190.16" y="661.71" width="16.22" height="7.58" fill="#e0e0ff"/>
<rect x="205.87" y="661.71" width="16.22" height="7.58" fill="#ff6b6b"/>
<rect x="221.59" y="661.71" width="16.22" height="7.58" fill="#ffe0e0"/>
<rect x="237.31" y="661.71" width="16.22" height="7.58" fill="#e0e0ff"/>
<rect x="253.02" y="661.71" width="16.22" height="7.58" fill="#ff0000"/>
<rect x="268.74" y="661.71" width="16.22" height="7.58" fill="#ffe0e0"/>
<rect x="284.45" y="661.71" width="16.22" height="7.58" fill="#e0e0ff"/>
<rect x="300.17" y="661.71" width="16.22" height="7.58" fill="#ffe0e0"/>
<rect x="315.88" y="661.71" width="16.22" height="7.58" fill="#e0e0ff"/>
<rect x="33.00" y="668.69" width="16.22" height="7.58" fill="#e0e0ff"/>
<rect x="48.72" y="668.69" width="16.22" height="7.58" fill="#ffe0e0"/>
<rect x="64.43" y="668.69" width="16.22" height="7.58" fill="#ff6b6b"/>
<rect x="80.15" y="668.69" width="31.93" height="7.58" fill="#ffe0e0"/>
<rect x="111.58" y="668.69" width="47.65" height="7.58" fill="#e0e0ff"/>
<rect x="158.73" y="668.69" width="16.22" height="7.58" fill="#ffe0e0"/>
<rect x="174.44" y="668.69" width="16.22" height="7.58" fill="#ff3333"/>
<rect x="190.16" y="668.69" width="16.22" height="7.58" fill="#aaaaff"/>
<rect x="205.87" y="668.69" width="16.22" height="7.58" fill="#ff6b6b"/>
<rect x="221.59" y="668.69" width="16.22" height="7.58" fill="#ffe0e0"/>
<rect x="237.31" y="668.69" width="16.22" height="7.58" fill="#e0e0ff"/>
<rect x="253.02" y="668.69" width="16.22" height="7.58" fill="#ff3333"/>
<rect x="268.74" y="668.69" width="16.22" height="7.58" fill="#ffe0e0"/>
<rect x="284.45" y="668.69" width="16.22" height="7.58" fill="#aaaaff"/>
<rect x="300.17" y="668.69" width="16.22" height="7.58" fill="#ffe0e0"/>
<rect x="315.88" y="668.69" width="16.22" height="7.58" fill="#e0e0ff"/>
<rect x="33.00" y="675.67" width="31.93" height="7.58" fill="#ffaaaa"/>
<rect x="64.43" y="675.67" width="16.22" height="7.58" fill="#ff3333"/>
<rect x="80.15" y="675.67" width="16.22" height="7.58" fill="#ffe0e0"/>
<rect x="95.86" y="675.67" width="16.22" height="7.58" fill="#ffaaaa"/>
<rect x="111.58" y="675.67" width="16.22" height="7.58" fill="#ffe0e0"/>
<rect x="127.29" y="675.67" width="16.22" height="7.58" fill="#e0e0ff"/>
<rect x="143.01" y="675.67" width="16.22" height="7.58" fill="#ffe0e0"/>
<rect x="158.73" y="675.67" width="16.22" height="7.58" fill="#ffaaaa"/>
<rect x="174.44" y="675.67" width="16.22" height="7.58" fill="#000000"/>
<rect x="190.16" y="675.67" width="16.22" height="7.58" fill="#e0e0ff"/>
<rect x="205.87" y="675.67" width="16.22" height="7.58" fill="#ff3333"/>
<rect x="221.59" y="675.67" width="16.22" height="7.58" fill="#ffaaaa"/>
<rect x="237.31" y="675.67" width="16.22" height="7.58" fill="#ffe0e0"/>
<rect x="253.02" y="675.67" width="16.22" height="7.58" fill="#ff0000"/>
<rect x="268.74" y="675.67" width="16.22" height="7.58" fill="#ffaaaa"/>
<rect x="284.45" y="675.67" width="16.22" height="7.58" fill="#e0e0ff"/>
<rect x="300.17" y="675.67" width="31.93" height="7.58" fill="#ffe0e0"/>
<rect x="33.00" y="682.64" width="16.22" height="7.58" fill="#ffaaaa"/>
<rect x="48.72" y="682.64" width="16.22" height="7.58" fill="#ffe0e0"/>
<rect x="64.43" y="682.64" width="16.22" height="7.58" fill="#ff6b6b"/>
<rect x="80.15" y="682.64" width="31.93" height="7.58" fill="#ffe0e0"/>
<rect x="111.58" y="682.64" width="31.93" height="7.58" fill="#e0e0ff"/>
<rect x="143.01" y="682.64" width="16.22" height="7.58" fill="#ffe0e0"/>
<rect x="158.73" y="682.64" width="16.22" height="7.58" fill="#ffaaaa"/>
<rect x="174.44" y="682.64" width="16.22" height="7.58" fill="#000000"/>
<rect x="190.16" y="682.64" width="16.22" height="7.58" fill="#e0e0ff"/>
<rect x="205.87" y="682.64" width="16.22" height="7.58" fill="#ff3333"/>
<rect x="221.59" y="682.64" width="16.22" height="7.58" fill="#ffaaaa"/>
<rect x="237.31" y="682.64" width="16.22" height="7.58" fill="#e0e0ff"/>
<rect x="253.02" y="682.64" width="16.22" height="7.58" fill="#ff3333"/>
<rect x="268.74" y="682.64" width="16.22" height="7.58" fill="#ffe0e0"/>
<rect x="284.45" y="682.64" width="16.22" height="7.58" fill="#aaaaff"/>
<rect x="300.17" y="682.64" width="16.22" height="7.58" fill="#ffe0e0"/>
<rect x="315.88" y="682.64" width="16.22" height="7.58" fill="#e0e0ff"/>
<rect x="33.00" y="689.62" width="31.93" height="7.58" fill="#ffaaaa"/>
<rect x="64.43" y="689.62" width="16.22" height="7.58" fill="#ff3333"/>
<rect x="80.15" y="689.62" width="31.93" height="7.58" fill="#ffe0e0"/>
<rect x="111.58" y="689.62" width="31.93" height="7.58" fill="#e0e0ff"/>
<rect x="143.01" y="689.62" width="31.93" height="7.58" fill="#ffe0e0"/>
<rect x="174.44" y="689.62" width="16.22" height="7.58" fill="#ff0000"/>
<rect x="190.16" y="689.62" width="16.22" height="7.58" fill="#e0e0ff"/>
<rect x="205.87" y="689.62" width="16.22" height="7.58" fill="#ff6b6b"/>
<rect x="221.59" y="689.62" width="16.22" height="7.58" fill="#ffaaaa"/>
<rect x="237.31" y="689.62" width="16.22" height="7.58" fill="#ffe0e0"/>
<rect x="253.02" y="689.62" width="16.22" height="7.58" fill="#ff0000"/>
<rect x="268.74" y="689.62" width="16.22" height="7.58" fill="#ffaaaa"/>
<rect x="284.45" y="689.62" width="16.22" height="7.58" fill="#e0e0ff"/>
<rect x="300.17" y="689.62" width="16.22" height="7.58" fill="#ffe0e0"/>
<rect x="315.88" y="689.62" width="16.22" height="7.58" fill="#e0e0ff"/>
<rect x="33.00" y="696.59" width="16.22" height="7.58" fill="#ffaaaa"/>
<rect x="48.72" y="696.59" width="16.22" height="7.58" fill="#ffe0e0"/>
<rect x="64.43" y="696.59" width="16.22" height="7.58" fill="#ff6b6b"/>
<rect x="80.15" y="696.59" width="31.93" height="7.58" fill="#ffe0e0"/>
<rect x="111.58" y="696.59" width="31.93" height="7.58" fill="#e0e0ff"/>
<rect x="143.01" y="696.59" width="16.22" height="7.58" fill="#ffe0e0"/>
<rect x="158.73" y="696.59" width="16.22" height="7.58" fill="#ffaaaa"/>
<rect x="174.44" y="696.59" width="16.22" height="7.58" fill="#ff0000"/>
<rect x="190.16" y="696.59" width="16.22" height="7.58" fill="#e0e0ff"/>
<rect x="205.87" y="696.59" width="16.22" height="7.58" fill="#ff3333"/>
<rect x="221.59" y="696.59" width="16.22" height="7.58" fill="#ffe0e0"/>
<rect x="237.31" y="696.59" width="16.22" height="7.58" fill="#e0e0ff"/>
<rect x="253.02" y="696.59" width="16.22" height="7.58" fill="#ff3333"/>
<rect x="268.74" y="696.59" width="16.22" height="7.58" fill="#ffaaaa"/>
<rect x="284.45" y="696.59" width="16.22" height="7.58" fill="#aaaaff"/>
<rect x="300.17" y="696.59" width="16.22" height="7.58" fill="#ffe0e0"/>
<rect x="315.88" y="696.59" width="16.22" height="7.58" fill="#e0e0ff"/>
<rect x="33.00" y="703.57" width="31.93" height="7.58" fill="#ffaaaa"/>
<rect x="64.43" y="703.57" width="16.22" height="7.58" fill="#ff3333"/>
<rect x="80.15" y="703.57" width="31.93" height="7.58" fill="#ffaaaa"/>
<rect x="111.58" y="703.57" width="79.08" height="7.58" fill="#ffe0e0"/>
<rect x="190.16" y="703.57" width="16.22" height="7.58" fill="#e0e0ff"/>
<rect x="205.87" y="703.57" width="16.22" height="7.58" fill="#ff3333"/>
<rect x="221.59" y="703.57" width="16.22" height="7.58" fill="#ffaaaa"/>
<rect x="237.31" y="703.57" width="16.22" height="7.58" fill="#ffe0e0"/>
<rect x="253.02" y="703.57" width="16.22" height="7.58" fill="#ff0000"/>
<rect x="268.74" y="703.57" width="16.22" height="7.58" fill="#ffaaaa"/>
<rect x="284.45" y="703.57" width="16.22" height="7.58" fill="#ffe0e0"/>
<rect x="300.17" y="703.57" width="31.93" height="7.58" fill="#ffaaaa"/>
<rect x="33.00" y="710.54" width="31.93" height="7.58" fill="#ffaaaa"/>
<rect x="64.43" y="710.54" width="16.22" height="7.58" fill="#ff3333"/>
<rect x="80.15" y="710.54" width="16.22" height="7.58" fill="#ffe0e0"/>
<rect x="95.86" y="710.54" width="16.22" height="7.58" fill="#ffaaaa"/>
<rect x="111.58" y="710.54" width="31.93" height="7.58" fill="#e0e0ff"/>
<rect x="143.01" y="710.54" width="31.93" height="7.58" fill="#ffe0e0"/>
<rect x="174.44" y="710.54" width="16.22" height="7.58" fill="#ff0000"/>
<rect x="190.16" y="710.54" width="16.22" height="7.58" fill="#ffe0e0"/>
<rect x="205.87" y="710.54" width="16.22" height="7.58" fill="#ff3333"/>
<rect x="221.59" y="710.54" width="16.22" height="7.58" fill="#ffaaaa"/>
<rect x="237.31" y="710.54" width="16.22" height="7.58" fill="#ffe0e0"/>
<rect x="253.02" y="710.54" width="16.22" height="7.58" fill="#ff0000"/>
<rect x="268.74" y="710.54" width="16.22" height="7.58" fill="#ff6b6b"/>
<rect x="284.45" y="710.54" width="47.65" height="7.58" fill="#ffe0e0"/>
<rect x="33.00" y="717.52" width="31.93" height="7.58" fill="#ffaaaa"/>
<rect x="64.43" y="717.52" width="16.22" height="7.58" fill="#ff3333"/>
<rect x="80.15" y="717.52" width="31.93" height="7.58" fill="#ffaaaa"/>
<rect x="111.58" y="717.52" width="47.65" height="7.58" fill="#ffe0e0"/>
<rect x="158.73" y="717.52" width="16.22" height="7.58" fill="#ffaaaa"/>
<rect x="174.44" y="717.52" width="16.22" height="7.58" fill="#6b6bff"/>
<rect x="190.16" y="717.52" width="16.22" height="7.58" fill="#e0e0ff"/>
<rect x="205.87" y="717.52" width="16.22" height="7.58" fill="#ff3333"/>
<rect x="221.59" y="717.52" width="16.22" height="7.58" fill="#ffaaaa"/>
<rect x="237.31" y="717.52" width="16.22" height="7.58" fill="#e0e0ff"/>
<rect x="253.02" y="717.52" width="16.22" height="7.58" fill="#ff3333"/>
<rect x="268.74" y="717.52" width="16.22" height="7.58" fill="#ffe0e0"/>
<rect x="284.45" y="717.52" width="16.22" height="7.58" fill="#e0e0ff"/>
<rect x="300.17" y="717.52" width="16.22" height="7.58" fill="#ffe0e0"/>
<rect x="315.88" y="717.52" width="16.22" height="7.58" fill="#e0e0ff"/>
<rect x="33.00" y="724.50" width="31.93" height="7.58" fill="#ffe0e0"/>
<rect x="64.43" y="724.50" width="16.22" height="7.58" fill="#ffaaaa"/>
<rect x="80.15" y="724.50" width="31.93" height="7.58" fill="#ffe0e0"/>
<rect x="111.58" y="724.50" width="16.22" height="7.58" fill="#e0e0ff"/>
<rect x="127.29" y="724.50" width="16.22" height="7.58" fill="#aaaaff"/>
<rect x="143.01" y="724.50" width="31.93" height="7.58" fill="#ffe0e0"/>
<rect x="174.44" y="724.50" width="16.22" height="7.58" fill="#0000ff"/>
<rect x="190.16" y="724.50" width="16.22" height="7.58" fill="#e0e0ff"/>
<rect x="205.87" y="724.50" width="16.22" height="7.58" fill="#ff3333"/>
<rect x="221.59" y="724.50" width="31.93" height="7.58" fill="#ffe0e0"/>
<rect x="253.02" y="724.50" width="16.22" height="7.58" fill="#ff0000"/>
<rect x="268.74" y="724.50" width="16.22" height="7.58" fill="#ffe0e0"/>
<rect x="284.45" y="724.50" width="16.22" height="7.58" fill="#aaaaff"/>
<rect x="300.17" y="724.50" width="16.22" height="7.58" fill="#ffe0e0"/>
<rect x="315.88" y="724.50" width="16.22" height="7.58" fill="#ffaaaa"/>
<rect x="33.00" y="731.47" width="31.93" height="7.58" fill="#ffaaaa"/>
<rect x="64.43" y="731.47" width="16.22" height="7.58" fill="#ff3333"/>
<rect x="80.15" y="731.47" width="31.93" height="7.58" fill="#ffaaaa"/>
<rect x="111.58" y="731.47" width="16.22" height="7.58" fill="#ffe0e0"/>
<rect x="127.29" y="731.47" width="16.22" height="7.58" fill="#e0e0ff"/>
<rect x="143.01" y="731.47" width="16.22" height="7.58" fill="#ffe0e0"/>
<rect x="158.73" y="731.47" width="16.22" height="7.58" fill="#e0e0ff"/>
<rect x="174.44" y="731.47" width="16.22" height="7.58" fill="#ff0000"/>
<rect x="190.16" y="731.47" width="16.22" height="7.58" fill="#e0e0ff"/>
<rect x="205.87" y="731.47" width="16.22" height="7.58" fill="#ff3333"/>
<rect x="221.59" y="731.47" width="31.93" height="7.58" fill="#ffe0e0"/>
<rect x="253.02" y="731.47" width="16.22" height="7.58" fill="#ff0000"/>
<rect x="268.74" y="731.47" width="16.22" height="7.58" fill="#ffaaaa"/>
<rect x="284.45" y="731.47" width="16.22" height="7.58" fill="#e0e0ff"/>
<rect x="300.17" y="731.47" width="16.22" height="7.58" fill="#ffaaaa"/>
<rect x="315.88" y="731.47" width="16.22" height="7.58" fill="#ffe0e0"/>
<rect x="33.00" y="738.45" width="31.93" height="7.58" fill="#ffaaaa"/>
<rect x="64.43" y="738.45" width="16.22" height="7.58" fill="#ff3333"/>
<rect x="80.15" y="738.45" width="47.65" height="7.58" fill="#ffe0e0"/>
<rect x="127.29" y="738.45" width="16.22" height="7.58" fill="#e0e0ff"/>
<rect x="143.01" y="738.45" width="16.22" height="7.58" fill="#ffe0e0"/>
<rect x="158.73" y="738.45" width="16.22" height="7.58" fill="#e0e0ff"/>
<rect x="174.44" y="738.45" width="16.22" height="7.58" fill="#000000"/>
<rect x="190.16" y="738.45" width="16.22" height="7.58" fill="#e0e0ff"/>
<rect x="205.87" y="738.45" width="16.22" height="7.58" fill="#ff6b6b"/>
<rect x="221.59" y="738.45" width="31.93" height="7.58" fill="#ffe0e0"/>
<rect x="253.02" y="738.45" width="16.22" height="7.58" fill="#ff0000"/>
<rect x="268.74" y="738.45" width="16.22" height="7.58" fill="#ffaaaa"/>
<rect x="284.45" y="738.45" width="16.22" height="7.58" fill="#e0e0ff"/>
<rect x="300.17" y="738.45" width="31.93" height="7.58" fill="#ffe0e0"/>
<rect x="33.00" y="745.42" width="31.93" height="7.58" fill="#e0e0ff"/>
<rect x="64.43" y="745.42" width="16.22" height="7.58" fill="#ffe0e0"/>
<rect x="80.15" y="745.42" width="16.22" height="7.58" fill="#e0e0ff"/>
<rect x="95.86" y="745.42" width="16.22" height="7.58" fill="#ffe0e0"/>
<rect x="111.58" y="745.42" width="16.22" height="7.58" fill="#aaaaff"/>
<rect x="127.29" y="745.42" width="31.93" height="7.58" fill="#e0e0ff"/>
<rect x="158.73" y="745.42" width="16.22" height="7.58" fill="#ffaaaa"/>
<rect x="174.44" y="745.42" width="16.22" height="7.58" fill="#0000ff"/>
<rect x="190.16" y="745.42" width="16.22" height="7.58" fill="#aaaaff"/>
<rect x="205.87" y="745.42" width="16.22" height="7.58" fill="#ffaaaa"/>
<rect x="221.59" y="745.42" width="16.22" height="7.58" fill="#e0e0ff"/>
<rect x="237.31" y="745.42" width="16.22" height="7.58" fill="#aaaaff"/>
<rect x="253.02" y="745.42" width="16.22" height="7.58" fill="#ff3333"/>
<rect x="268.74" y="745.42" width="16.22" height="7.58" fill="#e0e0ff"/>
<rect x="284.45" y="745.42" width="16.22" height="7.58" fill="#aaaaff"/>
<rect x="300.17" y="745.42" width="16.22" height="7.58" fill="#ffe0e0"/>
<rect x="315.88" y="745.42" width="16.22" height="7.58" fill="#e0e0ff"/>
<rect x="33.00" y="752.40" width="16.22" height="7.58" fill="#ffe0e0"/>
<rect x="48.72" y="752.40" width="16.22" height="7.58" fill="#ffaaaa"/>
<rect x="64.43" y="752.40" width="16.22" height="7.58" fill="#ff6b6b"/>
<rect x="80.15" y="752.40" width="47.65" height="7.58" fill="#ffe0e0"/>
<rect x="127.29" y="752.40" width="31.93" height="7.58" fill="#e0e0ff"/>
<rect x="158.73" y="752.40" width="16.22" height="7.58" fill="#ffe0e0"/>
<rect x="174.44" y="752.40" width="16.22" height="7.58" fill="#0000ff"/>
<rect x="190.16" y="752.40" width="16.22" height="7.58" fill="#e0e0ff"/>
<rect x="205.87" y="752.40" width="16.22" height="7.58" fill="#ff6b6b"/>
<rect x="221.59" y="752.40" width="16.22" height="7.58" fill="#ffe0e0"/>
<rect x="237.31" y="752.40" width="16.22" height="7.58" fill="#e0e0ff"/>
<rect x="253.02" y="752.40" width="16.22" height="7.58" fill="#ff0000"/>
<rect x="268.74" y="752.40" width="16.22" height="7.58" fill="#ffaaaa"/>
<rect x="284.45" y="752.40" width="16.22" height="7.58" fill="#e0e0ff"/>
<rect x="300.17" y="752.40" width="31.93" height="7.58" fill="#ffe0e0"/>
<rect x="33.00" y="759.37" width="31.93" height="7.58" fill="#ffaaaa"/>
<rect x="64.43" y="759.37" width="16.22" height="7.58" fill="#ff3333"/>
<rect x="80.15" y="759.37" width="16.22" height="7.58" fill="#ffe0e0"/>
<rect x="95.86" y="759.37" width="16.22" height="7.58" fill="#ffaaaa"/>
<rect x="111.58" y="759.37" width="16.22" height="7.58" fill="#ffe0e0"/>
<rect x="127.29" y="759.37" width="47.65" height="7.58" fill="#e0e0ff"/>
<rect x="174.44" y="759.37" width="16.22" height="7.58" fill="#ff0000"/>
<rect x="190.16" y="759.37" width="16.22" height="7.58" fill="#e0e0ff"/>
<rect x="205.87" y="759.37" width="16.22" height="7.58" fill="#ff3333"/>
<rect x="221.59" y="759.37" width="16.22" height="7.58" fill="#ffaaaa"/>
<rect x="237.31" y="759.37" width="16.22" height="7.58" fill="#ffe0e0"/>
<rect x="253.02" y="759.37" width="16.22" height="7.58" fill="#ff0000"/>
<rect x="268.74" y="759.37" width="16.22" height="7.58" fill="#ffaaaa"/>
<rect x="284.45" y="759.37" width="16.22" height="7.58" fill="#e0e0ff"/>
<rect x="300.17" y="759.37" width="31.93" height="7.58" fill="#ffe0e0"/>
<rect x="33.00" y="766.35" width="16.22" height="7.58" fill="#ffaaaa"/>
<rect x="48.72" y="766.35" width="16.22" height="7.58" fill="#ffe0e0"/>
<rect x="64.43" y="766.35" width="16.22" height="7.58" fill="#ff6b6b"/>
<rect x="80.15" y="766.35" width="31.93" height="7.58" fill="#ffaaaa"/>
<rect x="111.58" y="766.35" width="31.93" height="7.58" fill="#e0e0ff"/>
<rect x="143.01" y="766.35" width="16.22" height="7.58" fill="#ffe0e0"/>
<rect x="158.73" y="766.35" width="16.22" height="7.58" fill="#ffaaaa"/>
<rect x="174.44" y="766.35" width="16.22" height="7.58" fill="#0000ff"/>
<rect x="190.16" y="766.35" width="16.22" height="7.58" fill="#e0e0ff"/>
<rect x="205.87" y="766.35" width="16.22" height="7.58" fill="#ff3333"/>
<rect x="221.59" y="766.35" width="31.93" height="7.58" fill="#ffe0e0"/>
<rect x="253.02" y="766.35" width="16.22" height="7.58" fill="#ff0000"/>
<rect x="268.74" y="766.35" width="16.22" height="7.58" fill="#ff6b6b"/>
<rect x="284.45" y="766.35" width="16.22" height="7.58" fill="#e0e0ff"/>
<rect x="300.17" y="766.35" width="31.93" height="7.58" fill="#ffe0e0"/>
<rect x="33.00" y="773.32" width="31.93" height="7.58" fill="#ffaaaa"/>
<rect x="64.43" y="773.32" width="16.22" height="7.58" fill="#ff3333"/>
<rect x="80.15" y="773.32" width="31.93" height="7.58" fill="#ffaaaa"/>
<rect x="111.58" y="773.32" width="47.65" height="7.58" fill="#ffe0e0"/>
<rect x="158.73" y="773.32" width="16.22" height="7.58" fill="#ffaaaa"/>
<rect x="174.44" y="773.32" width="16.22" height="7.58" fill="#ff0000"/>
<rect x="190.16" y="773.32" width="16.22" height="7.58" fill="#ffe0e0"/>
<rect x="205.87" y="773.32" width="16.22" height="7.58" fill="#ff0000"/>
<rect x="221.59" y="773.32" width="16.22" height="7.58" fill="#ffaaaa"/>
<rect x="237.31" y="773.32" width="16.22" height="7.58" fill="#ffe0e0"/>
<rect x="253.02" y="773.32" width="16.22" height="7.58" fill="#ff0000"/>
<rect x="268.74" y="773.32" width="16.22" height="7.58" fill="#ffaaaa"/>
<rect x="284.45" y="773.32" width="16.22" height="7.58" fill="#e0e0ff"/>
<rect x="300.17" y="773.32" width="16.22" height="7.58" fill="#ff6b6b"/>
<rect x="315.88" y="773.32" width="16.22" height="7.58" fill="#ffe0e0"/>
</g>
<rect x="33.0" y="494.3" width="298.6" height="286.0" fill="none" stroke="#111" stroke-width="1.3"/>
<text class="rl" x="25.4" y="500.4">sdh4</text>
<text class="rl" x="25.4" y="507.4">sdh3</text>
<text class="rl" x="25.4" y="514.3">rps19</text>
<text class="rl" x="25.4" y="521.3">rps14</text>
<text class="rl" x="25.4" y="528.3">rps13</text>
<text class="rl" x="25.4" y="535.3">rps12</text>
<text class="rl" x="25.4" y="542.2">rps11</text>
<text class="rl" x="25.4" y="549.2">rps10</text>
<text class="rl" x="25.4" y="556.2">rps7</text>
<text class="rl" x="25.4" y="563.2">rps4</text>
<text class="rl" x="25.4" y="570.1">rps3</text>
<text class="rl" x="25.4" y="577.1">rps2</text>
<text class="rl" x="25.4" y="584.1">rps1</text>
<text class="rl" x="25.4" y="591.1">rpl16</text>
<text class="rl" x="25.4" y="598.0">rpl10</text>
<text class="rl" x="25.4" y="605.0">rpl5</text>
<text class="rl" x="25.4" y="612.0">rpl2</text>
<text class="rl" x="25.4" y="619.0">nad9</text>
<text class="rl" x="25.4" y="625.9">nad7</text>
<text class="rl" x="25.4" y="632.9">nad6</text>
<text class="rl" x="25.4" y="639.9">nad5</text>
<text class="rl" x="25.4" y="646.9">nad4L</text>
<text class="rl" x="25.4" y="653.9">nad4</text>
<text class="rl" x="25.4" y="660.8">nad3</text>
<text class="rl" x="25.4" y="667.8">nad2</text>
<text class="rl" x="25.4" y="674.8">nad1</text>
<text class="rl" x="25.4" y="681.8">mttB</text>
<text class="rl" x="25.4" y="688.7">matR</text>
<text class="rl" x="25.4" y="695.7">cox3</text>
<text class="rl" x="25.4" y="702.7">cox2</text>
<text class="rl" x="25.4" y="709.7">cox1</text>
<text class="rl" x="25.4" y="716.6">cob</text>
<text class="rl" x="25.4" y="723.6">ccmFN</text>
<text class="rl" x="25.4" y="730.6">ccmFC</text>
<text class="rl" x="25.4" y="737.6">ccmC</text>
<text class="rl" x="25.4" y="744.5">ccmB</text>
<text class="rl" x="25.4" y="751.5">atp9</text>
<text class="rl" x="25.4" y="758.5">atp8</text>
<text class="rl" x="25.4" y="765.5">atp6</text>
<text class="rl" x="25.4" y="772.4">atp4</text>
<text class="rl" x="25.4" y="779.4">atp1</text>
<text class="cl" transform="translate(45.3 789.5) rotate(-59)" >Cycas</text>
<text class="cl" transform="translate(61.0 789.5) rotate(-59)" >Zamia</text>
<text class="cl" transform="translate(76.7 789.5) rotate(-59)" >Ginkgo</text>
<text class="cl" transform="translate(92.4 789.5) rotate(-59)" >Cedrus</text>
<text class="cl" transform="translate(108.1 789.5) rotate(-59)" >Abies</text>
<text class="cl" transform="translate(123.8 789.5) rotate(-59)" >Picea</text>
<text class="cl" transform="translate(139.6 789.5) rotate(-59)" >Pinus</text>
<text class="cl" transform="translate(155.3 789.5) rotate(-59)" >Gnetum</text>
<text class="cl" transform="translate(171.0 789.5) rotate(-59)" >Welwitschia</text>
<text class="cl" transform="translate(186.7 789.5) rotate(-59)" >Ephedra</text>
<text class="cl" transform="translate(202.4 789.5) rotate(-59)" >Araucaria</text>
<text class="cl" transform="translate(218.1 789.5) rotate(-59)" >Podocarpus</text>
<text class="cl" transform="translate(233.8 789.5) rotate(-59)" >Sciadopitys</text>
<text class="cl" transform="translate(249.6 789.5) rotate(-59)" >Cephalotaxus</text>
<text class="cl" transform="translate(265.3 789.5) rotate(-59)" >Taxus</text>
<text class="cl" transform="translate(281.0 789.5) rotate(-59)" >Cunninghamia</text>
<text class="cl" transform="translate(296.7 789.5) rotate(-59)" >Metasequoia</text>
<text class="cl" transform="translate(312.4 789.5) rotate(-59)" >Taiwania</text>
<text class="cl" transform="translate(328.1 789.5) rotate(-59)" >Platycladus</text>
<path d="M27.3 497.79H33.0M27.3 504.76H33.0M27.3 511.74H33.0M27.3 518.71H33.0M27.3 525.69H33.0M27.3 532.67H33.0M27.3 539.64H33.0M27.3 546.62H33.0M27.3 553.59H33.0M27.3 560.57H33.0M27.3 567.54H33.0M27.3 574.52H33.0M27.3 581.50H33.0M27.3 588.47H33.0M27.3 595.45H33.0M27.3 602.42H33.0M27.3 609.40H33.0M27.3 616.37H33.0M27.3 623.35H33.0M27.3 630.32H33.0M27.3 637.30H33.0M27.3 644.28H33.0M27.3 651.25H33.0M27.3 658.23H33.0M27.3 665.20H33.0M27.3 672.18H33.0M27.3 679.15H33.0M27.3 686.13H33.0M27.3 693.10H33.0M27.3 700.08H33.0M27.3 707.06H33.0M27.3 714.03H33.0M27.3 721.01H33.0M27.3 727.98H33.0M27.3 734.96H33.0M27.3 741.93H33.0M27.3 748.91H33.0M27.3 755.89H33.0M27.3 762.86H33.0M27.3 769.84H33.0M27.3 776.81H33.0M40.86 780.3V785.5M56.57 780.3V785.5M72.29 780.3V785.5M88.01 780.3V785.5M103.72 780.3V785.5M119.44 780.3V785.5M135.15 780.3V785.5M150.87 780.3V785.5M166.58 780.3V785.5M182.30 780.3V785.5M198.02 780.3V785.5M213.73 780.3V785.5M229.45 780.3V785.5M245.16 780.3V785.5M260.88 780.3V785.5M276.59 780.3V785.5M292.31 780.3V785.5M308.03 780.3V785.5M323.74 780.3V785.5" stroke="#222" stroke-width="0.9" fill="none"/>
<rect x="345" y="634.4" width="7.2" height="23.8" fill="#ff0000"/>
<rect x="345" y="658.0" width="7.2" height="12.2" fill="#ff3333"/>
<rect x="345" y="670.0" width="7.2" height="12.2" fill="#ff6b6b"/>
<rect x="345" y="682.0" width="7.2" height="11.8" fill="#ffaaaa"/>
<rect x="345" y="693.6" width="7.2" height="11.6" fill="#ffe0e0"/>
<rect x="345" y="705.0" width="7.2" height="12.2" fill="#e0e0ff"/>
<rect x="345" y="717.0" width="7.2" height="11.2" fill="#aaaaff"/>
<rect x="345" y="728.0" width="7.2" height="12.2" fill="#7070ff"/>
<rect x="345" y="740.0" width="7.2" height="11.8" fill="#3333ff"/>
<rect x="345" y="751.6" width="7.2" height="23.0" fill="#0000ff"/>
<text x="355.4" y="649.4" font-size="8.6px" fill="#111">2000</text>
<text x="355.4" y="659.6" font-size="8.6px" fill="#111">1000</text>
<text x="355.4" y="672.6" font-size="8.6px" fill="#111">500</text>
<text x="355.4" y="695.4" font-size="8.6px" fill="#111">100</text>
<text x="355.4" y="731.6" font-size="8.6px" fill="#111">10</text>
<text x="355.4" y="764.6" font-size="8.6px" fill="#111">1</text>
<text x="355.4" y="776.0" font-size="8.6px" fill="#111">0</text>
<path d="M352.2 646.4h1.6M352.2 658.0h1.6M352.2 669.6h1.6M352.2 682.0h1.6M352.2 693.6h1.6M352.2 705.0h1.6M352.2 717.0h1.6M352.2 728.6h1.6M352.2 740.0h1.6M352.2 751.6h1.6M352.2 761.6h1.6M352.2 773.0h1.6" stroke="#222" stroke-width="0.7" fill="none"/>
</g>
<g id="panelC">
<text class="pl" x="407.8" y="485.8">(c)</text>
<rect x="448.9" y="515.8" width="327.6" height="263.6" fill="none" stroke="#2a2a2a" stroke-width="1.2"/>
<text x="439.7" y="774.6" font-size="10.9px" fill="#222" text-anchor="end">0</text>
<text x="439.7" y="732.1" font-size="10.9px" fill="#222" text-anchor="end">50</text>
<text x="439.7" y="689.7" font-size="10.9px" fill="#222" text-anchor="end">100</text>
<text x="439.7" y="647.2" font-size="10.9px" fill="#222" text-anchor="end">150</text>
<text x="439.7" y="604.7" font-size="10.9px" fill="#222" text-anchor="end">200</text>
<text x="439.7" y="562.3" font-size="10.9px" fill="#222" text-anchor="end">250</text>
<text x="439.7" y="519.8" font-size="10.9px" fill="#222" text-anchor="end">300</text>
<text class="sl" transform="translate(470.9 791.7) rotate(-59.5)">Pinus</text>
<text class="sl" transform="translate(507.4 791.7) rotate(-59.5)">Gnetum</text>
<text class="sl" transform="translate(543.8 791.7) rotate(-59.5)">Welwitschia</text>
<text class="sl" transform="translate(580.2 791.7) rotate(-59.5)">Ephedra</text>
<text class="sl" transform="translate(616.7 791.7) rotate(-59.5)">Metasequoia</text>
<text class="sl" transform="translate(653.1 791.7) rotate(-59.5)">Cunninghamia</text>
<text class="sl" transform="translate(689.6 791.7) rotate(-59.5)">Sciadopitys</text>
<text class="sl" transform="translate(726.1 791.7) rotate(-59.5)">Araucaria</text>
<text class="sl" transform="translate(762.5 791.7) rotate(-59.5)">Podocarpus</text>
<path d="M443.9 770.70H448.9M446.3 749.47H448.9M443.9 728.23H448.9M446.3 707.00H448.9M443.9 685.77H448.9M446.3 664.53H448.9M443.9 643.30H448.9M446.3 622.07H448.9M443.9 600.83H448.9M446.3 579.60H448.9M443.9 558.37H448.9M446.3 537.13H448.9M443.9 515.90H448.9M466.80 779.4V784.4M503.25 779.4V784.4M539.70 779.4V784.4M576.15 779.4V784.4M612.60 779.4V784.4M649.05 779.4V784.4M685.50 779.4V784.4M721.95 779.4V784.4M758.40 779.4V784.4" stroke="#222" stroke-width="1.2" fill="none"/>
<text transform="translate(416.3 653.9) rotate(-90)" font-size="11.2px" fill="#222" text-anchor="middle">Relative amount of gene copies</text>
<path d="M465.9 665.1l1.85 1.85l-1.85 1.85l-1.85 -1.85zM466.0 675.8l1.85 1.85l-1.85 1.85l-1.85 -1.85zM465.5 679.1l1.85 1.85l-1.85 1.85l-1.85 -1.85zM466.9 681.9l1.85 1.85l-1.85 1.85l-1.85 -1.85zM469.2 683.3l1.85 1.85l-1.85 1.85l-1.85 -1.85zM467.5 686.4l1.85 1.85l-1.85 1.85l-1.85 -1.85zM468.0 688.2l1.85 1.85l-1.85 1.85l-1.85 -1.85zM468.7 690.5l1.85 1.85l-1.85 1.85l-1.85 -1.85zM463.2 695.1l1.85 1.85l-1.85 1.85l-1.85 -1.85zM465.7 695.0l1.85 1.85l-1.85 1.85l-1.85 -1.85zM471.3 698.3l1.85 1.85l-1.85 1.85l-1.85 -1.85zM468.8 700.2l1.85 1.85l-1.85 1.85l-1.85 -1.85zM469.8 701.6l1.85 1.85l-1.85 1.85l-1.85 -1.85zM464.7 703.2l1.85 1.85l-1.85 1.85l-1.85 -1.85zM466.7 704.2l1.85 1.85l-1.85 1.85l-1.85 -1.85zM469.2 711.1l1.85 1.85l-1.85 1.85l-1.85 -1.85zM467.7 712.1l1.85 1.85l-1.85 1.85l-1.85 -1.85zM465.1 712.8l1.85 1.85l-1.85 1.85l-1.85 -1.85zM466.4 714.4l1.85 1.85l-1.85 1.85l-1.85 -1.85zM467.0 716.1l1.85 1.85l-1.85 1.85l-1.85 -1.85zM465.7 717.7l1.85 1.85l-1.85 1.85l-1.85 -1.85zM467.7 718.7l1.85 1.85l-1.85 1.85l-1.85 -1.85zM466.9 720.3l1.85 1.85l-1.85 1.85l-1.85 -1.85zM469.3 721.2l1.85 1.85l-1.85 1.85l-1.85 -1.85zM471.3 722.3l1.85 1.85l-1.85 1.85l-1.85 -1.85zM465.1 722.7l1.85 1.85l-1.85 1.85l-1.85 -1.85zM463.9 724.3l1.85 1.85l-1.85 1.85l-1.85 -1.85zM462.1 726.0l1.85 1.85l-1.85 1.85l-1.85 -1.85zM468.0 729.6l1.85 1.85l-1.85 1.85l-1.85 -1.85zM471.0 729.6l1.85 1.85l-1.85 1.85l-1.85 -1.85zM466.5 733.9l1.85 1.85l-1.85 1.85l-1.85 -1.85zM464.4 738.0l1.85 1.85l-1.85 1.85l-1.85 -1.85zM466.9 738.3l1.85 1.85l-1.85 1.85l-1.85 -1.85zM468.0 738.8l1.85 1.85l-1.85 1.85l-1.85 -1.85zM468.7 745.6l1.85 1.85l-1.85 1.85l-1.85 -1.85zM504.6 671.7l1.85 1.85l-1.85 1.85l-1.85 -1.85zM505.8 679.3l1.85 1.85l-1.85 1.85l-1.85 -1.85zM500.5 684.6l1.85 1.85l-1.85 1.85l-1.85 -1.85zM502.8 693.6l1.85 1.85l-1.85 1.85l-1.85 -1.85zM506.3 697.1l1.85 1.85l-1.85 1.85l-1.85 -1.85zM502.6 703.7l1.85 1.85l-1.85 1.85l-1.85 -1.85zM505.1 703.4l1.85 1.85l-1.85 1.85l-1.85 -1.85zM507.4 706.7l1.85 1.85l-1.85 1.85l-1.85 -1.85zM503.1 709.8l1.85 1.85l-1.85 1.85l-1.85 -1.85zM504.0 711.9l1.85 1.85l-1.85 1.85l-1.85 -1.85zM500.3 715.6l1.85 1.85l-1.85 1.85l-1.85 -1.85zM501.3 716.7l1.85 1.85l-1.85 1.85l-1.85 -1.85zM505.6 718.0l1.85 1.85l-1.85 1.85l-1.85 -1.85zM506.6 720.0l1.85 1.85l-1.85 1.85l-1.85 -1.85zM504.1 720.7l1.85 1.85l-1.85 1.85l-1.85 -1.85zM501.5 723.8l1.85 1.85l-1.85 1.85l-1.85 -1.85zM505.9 724.1l1.85 1.85l-1.85 1.85l-1.85 -1.85zM501.3 729.2l1.85 1.85l-1.85 1.85l-1.85 -1.85zM501.6 731.9l1.85 1.85l-1.85 1.85l-1.85 -1.85zM505.1 733.9l1.85 1.85l-1.85 1.85l-1.85 -1.85zM502.3 738.6l1.85 1.85l-1.85 1.85l-1.85 -1.85zM505.1 743.6l1.85 1.85l-1.85 1.85l-1.85 -1.85zM499.7 745.6l1.85 1.85l-1.85 1.85l-1.85 -1.85zM540.5 732.5l1.85 1.85l-1.85 1.85l-1.85 -1.85zM609.3 726.0l1.85 1.85l-1.85 1.85l-1.85 -1.85zM648.9 728.4l1.85 1.85l-1.85 1.85l-1.85 -1.85zM686.0 729.7l1.85 1.85l-1.85 1.85l-1.85 -1.85zM716.7 755.0l1.85 1.85l-1.85 1.85l-1.85 -1.85zM724.8 758.4l1.85 1.85l-1.85 1.85l-1.85 -1.85zM758.9 699.2l1.85 1.85l-1.85 1.85l-1.85 -1.85zM760.9 698.6l1.85 1.85l-1.85 1.85l-1.85 -1.85zM759.0 706.0l1.85 1.85l-1.85 1.85l-1.85 -1.85zM759.2 713.9l1.85 1.85l-1.85 1.85l-1.85 -1.85zM756.4 717.7l1.85 1.85l-1.85 1.85l-1.85 -1.85zM759.5 716.2l1.85 1.85l-1.85 1.85l-1.85 -1.85zM761.2 720.3l1.85 1.85l-1.85 1.85l-1.85 -1.85zM758.5 725.3l1.85 1.85l-1.85 1.85l-1.85 -1.85zM756.9 729.2l1.85 1.85l-1.85 1.85l-1.85 -1.85zM759.2 728.6l1.85 1.85l-1.85 1.85l-1.85 -1.85zM761.5 728.6l1.85 1.85l-1.85 1.85l-1.85 -1.85zM757.9 734.2l1.85 1.85l-1.85 1.85l-1.85 -1.85zM756.4 737.2l1.85 1.85l-1.85 1.85l-1.85 -1.85zM758.9 738.5l1.85 1.85l-1.85 1.85l-1.85 -1.85zM757.6 740.5l1.85 1.85l-1.85 1.85l-1.85 -1.85zM760.5 741.4l1.85 1.85l-1.85 1.85l-1.85 -1.85zM762.8 741.6l1.85 1.85l-1.85 1.85l-1.85 -1.85zM754.3 742.9l1.85 1.85l-1.85 1.85l-1.85 -1.85zM756.2 744.1l1.85 1.85l-1.85 1.85l-1.85 -1.85zM758.9 744.4l1.85 1.85l-1.85 1.85l-1.85 -1.85zM753.6 745.4l1.85 1.85l-1.85 1.85l-1.85 -1.85zM755.6 746.7l1.85 1.85l-1.85 1.85l-1.85 -1.85zM757.6 747.5l1.85 1.85l-1.85 1.85l-1.85 -1.85zM761.2 747.9l1.85 1.85l-1.85 1.85l-1.85 -1.85zM759.5 749.0l1.85 1.85l-1.85 1.85l-1.85 -1.85zM756.9 750.7l1.85 1.85l-1.85 1.85l-1.85 -1.85zM756.6 755.0l1.85 1.85l-1.85 1.85l-1.85 -1.85zM582.2 558.7l1.85 1.85l-1.85 1.85l-1.85 -1.85z" fill="#ff00ff"/>
<path d="M497.9 760.7l1.85 1.85l-1.85 1.85l-1.85 -1.85zM501.3 768.3l1.85 1.85l-1.85 1.85l-1.85 -1.85zM502.6 768.0l1.85 1.85l-1.85 1.85l-1.85 -1.85zM504.0 767.7l1.85 1.85l-1.85 1.85l-1.85 -1.85zM504.8 768.6l1.85 1.85l-1.85 1.85l-1.85 -1.85zM537.6 768.6l1.85 1.85l-1.85 1.85l-1.85 -1.85zM538.9 768.5l1.85 1.85l-1.85 1.85l-1.85 -1.85zM540.2 768.1l1.85 1.85l-1.85 1.85l-1.85 -1.85zM541.4 767.8l1.85 1.85l-1.85 1.85l-1.85 -1.85zM575.1 768.5l1.85 1.85l-1.85 1.85l-1.85 -1.85zM576.7 768.3l1.85 1.85l-1.85 1.85l-1.85 -1.85zM578.4 768.6l1.85 1.85l-1.85 1.85l-1.85 -1.85zM580.0 768.6l1.85 1.85l-1.85 1.85l-1.85 -1.85zM581.3 768.6l1.85 1.85l-1.85 1.85l-1.85 -1.85zM610.3 767.8l1.85 1.85l-1.85 1.85l-1.85 -1.85zM612.0 768.0l1.85 1.85l-1.85 1.85l-1.85 -1.85zM613.6 768.3l1.85 1.85l-1.85 1.85l-1.85 -1.85zM615.3 767.8l1.85 1.85l-1.85 1.85l-1.85 -1.85zM617.3 766.8l1.85 1.85l-1.85 1.85l-1.85 -1.85zM643.6 768.6l1.85 1.85l-1.85 1.85l-1.85 -1.85zM646.9 767.5l1.85 1.85l-1.85 1.85l-1.85 -1.85zM648.6 768.1l1.85 1.85l-1.85 1.85l-1.85 -1.85zM649.9 769.5l1.85 1.85l-1.85 1.85l-1.85 -1.85zM651.2 767.2l1.85 1.85l-1.85 1.85l-1.85 -1.85zM652.2 765.8l1.85 1.85l-1.85 1.85l-1.85 -1.85zM652.5 768.1l1.85 1.85l-1.85 1.85l-1.85 -1.85zM687.7 756.3l1.85 1.85l-1.85 1.85l-1.85 -1.85zM682.7 764.5l1.85 1.85l-1.85 1.85l-1.85 -1.85zM684.0 765.8l1.85 1.85l-1.85 1.85l-1.85 -1.85zM688.0 765.8l1.85 1.85l-1.85 1.85l-1.85 -1.85zM686.4 766.5l1.85 1.85l-1.85 1.85l-1.85 -1.85zM685.0 767.5l1.85 1.85l-1.85 1.85l-1.85 -1.85zM685.7 768.6l1.85 1.85l-1.85 1.85l-1.85 -1.85zM717.3 768.8l1.85 1.85l-1.85 1.85l-1.85 -1.85zM719.0 768.8l1.85 1.85l-1.85 1.85l-1.85 -1.85zM720.6 768.8l1.85 1.85l-1.85 1.85l-1.85 -1.85zM722.3 768.8l1.85 1.85l-1.85 1.85l-1.85 -1.85zM723.9 768.6l1.85 1.85l-1.85 1.85l-1.85 -1.85zM754.3 768.0l1.85 1.85l-1.85 1.85l-1.85 -1.85zM756.2 768.3l1.85 1.85l-1.85 1.85l-1.85 -1.85zM758.5 768.5l1.85 1.85l-1.85 1.85l-1.85 -1.85zM759.9 768.0l1.85 1.85l-1.85 1.85l-1.85 -1.85zM760.5 768.8l1.85 1.85l-1.85 1.85l-1.85 -1.85z" fill="#000"/>
</g>
</svg></body></html>
